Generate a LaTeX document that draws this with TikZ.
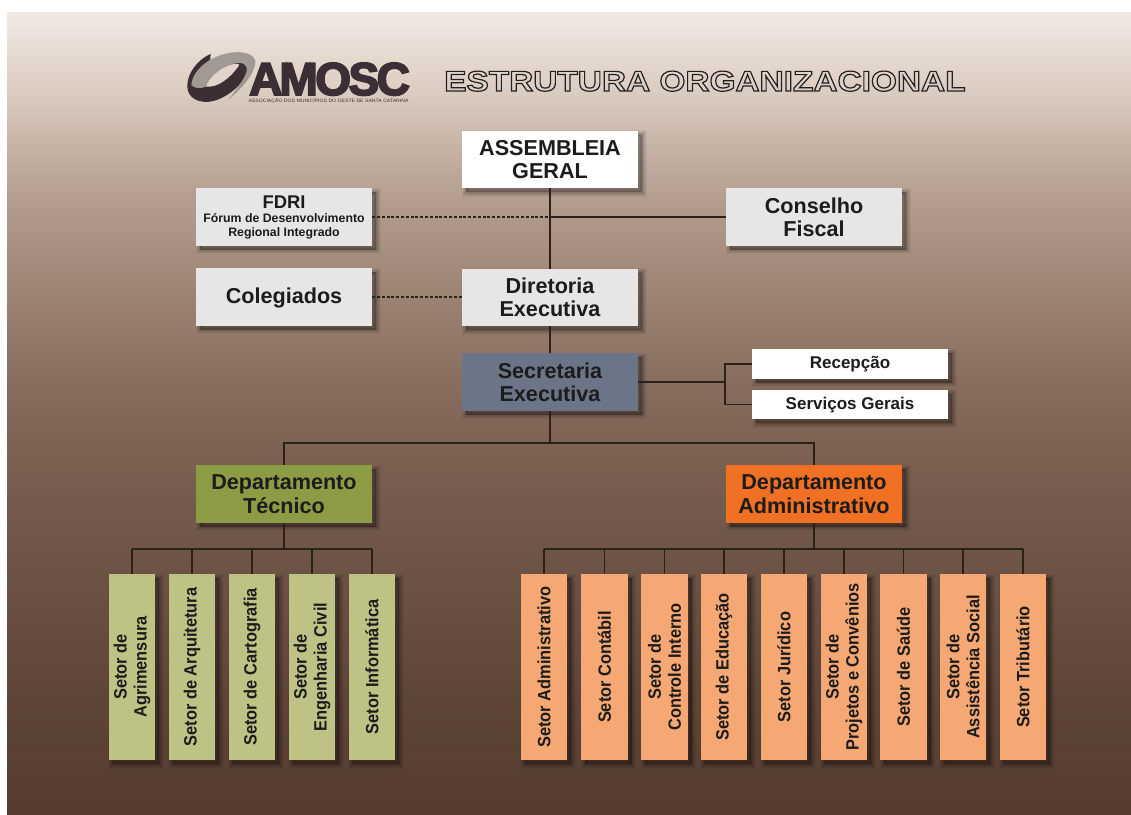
\documentclass[tikz,border=0pt]{standalone}
\usepackage{fontspec}
\setmainfont{Liberation Sans}[BoldFont={* Bold}]
\newfontfamily\widefont{Liberation Sans Bold}[FakeStretch=1.172]
\newfontfamily\logofont{Liberation Sans Bold}
\newfontfamily\setorfont{Liberation Sans Bold}[FakeStretch=.92]
\usetikzlibrary{shadows}
\definecolor{bgA}{HTML}{553C2F}
\definecolor{bgB}{HTML}{5D4538}
\definecolor{bgC}{HTML}{695042}
\definecolor{bgD}{HTML}{755B4D}
\definecolor{bgE}{HTML}{85695B}
\definecolor{bgF}{HTML}{9A8273}
\definecolor{bgG}{HTML}{B39D8E}
\definecolor{bgH}{HTML}{C4B2A4}
\definecolor{bgI}{HTML}{D8C9BD}
\definecolor{bgJ}{HTML}{E2D4CA}
\definecolor{bgK}{HTML}{F1E9E4}
\definecolor{inkc}{HTML}{1C1C1C}
\definecolor{linec}{HTML}{2A2119}
\definecolor{logodark}{HTML}{3B2E34}
\definecolor{logogrey}{HTML}{A09A92}
\pgfdeclareverticalshading{bgfade}{100bp}{color(0bp)=(bgA);color(25bp)=(bgA);color(32.11bp)=(bgB);color(38.34bp)=(bgC);color(44.58bp)=(bgD);color(50.81bp)=(bgE);color(57.04bp)=(bgF);color(63.28bp)=(bgG);color(66.4bp)=(bgH);color(69.51bp)=(bgI);color(71.38bp)=(bgJ);color(75bp)=(bgK);color(100bp)=(bgK)}
\newcommand\vtxt[1]{\rotatebox{90}{\parbox{180pt}{\centering #1}}}
\tikzset{
  softshadow/.style={
    general shadow={fill=black,draw=black,line width=9pt,opacity=.04,shadow xshift=4pt,shadow yshift=-4pt},
    general shadow={fill=black,draw=black,line width=7pt,opacity=.05,shadow xshift=4pt,shadow yshift=-4pt},
    general shadow={fill=black,draw=black,line width=5pt,opacity=.06,shadow xshift=4pt,shadow yshift=-4pt},
    general shadow={fill=black,draw=black,line width=3pt,opacity=.07,shadow xshift=4pt,shadow yshift=-4pt},
    general shadow={fill=black,draw=black,line width=1pt,opacity=.08,shadow xshift=4pt,shadow yshift=-4pt}},
  card/.style={softshadow,rectangle,inner sep=0pt,align=center,text=inkc,font=\bfseries\fontsize{21.6}{23.4}\selectfont,minimum width=176pt,minimum height=57.5pt,fill=#1},
  small/.style={card=white,minimum width=196pt,minimum height=29.5pt,text height=12pt,text depth=3pt,font=\bfseries\fontsize{17}{19}\selectfont},
  setorT/.style={softshadow,rectangle,inner sep=0pt,text=inkc,font=\setorfont\fontsize{17.8}{20}\selectfont,minimum width=46.5pt,minimum height=186pt,fill=#1},
  link/.style={draw=linec,line width=1.3pt},
  dashlink/.style={draw=linec,line width=1.3pt,dash pattern=on 3pt off 1.8pt},
}
\definecolor{boxgrey}{HTML}{E6E6E6}
\definecolor{boxslate}{HTML}{6C7488}
\definecolor{boxolive}{HTML}{8B9C45}
\definecolor{boxorange}{HTML}{F07123}
\definecolor{boxgreen}{HTML}{BEC385}
\definecolor{boxpeach}{HTML}{F5A873}
\begin{document}
\begin{tikzpicture}[x=1pt,y=-1pt]
\useasboundingbox (0,0) rectangle (1131,814);
\shade[shading=bgfade] (7,12) rectangle (1131,814);

% logo
\begin{scope}[shift={(180,45)},x=0.3333pt,y=-0.3333pt]
\fill[logodark] (92,27) .. controls (55,42) and (20,85) .. (22,125) .. controls (22,160) and (60,178) .. (100,168) .. controls (150,155) and (195,110) .. (212,70) -- (180,50) -- (90,50) -- cycle;
\fill[logogrey] (34,120) .. controls (38,75) and (90,30) .. (160,22) .. controls (205,18) and (232,35) .. (225,60) .. controls (218,95) and (180,135) .. (145,165) .. controls (170,130) and (205,90) .. (200,68) .. controls (195,50) and (175,50) .. (150,60) .. controls (115,72) and (85,100) .. (78,125) .. controls (60,132) and (42,130) .. (34,120) -- cycle;
\fill[bgJ] (78,125) .. controls (85,100) and (115,72) .. (150,60) .. controls (165,55) and (175,55) .. (178,60) .. controls (150,100) and (115,128) .. (78,125) -- cycle;
\end{scope}
\node[text=logodark,inner sep=0pt,anchor=base west,font=\logofont\fontsize{46}{46}\selectfont] (amosc) at (249,95) {\special{pdf:code 2 Tr 1.8 w 0.231 0.18 0.204 RG}A\kern-3pt M\kern-2.5pt O\kern-2.5pt S\kern-2.5pt C\special{pdf:code 0 Tr}};
\node[text=logodark,inner sep=0pt,anchor=center] (assoc) at (328.5,100.8) {\resizebox{160pt}{4.2pt}{ASSOCIAÇÃO DOS MUNICÍPIOS DO OESTE DE SANTA CATARINA}};

% title
\node[inner sep=0pt,anchor=base west,font=\widefont\fontsize{28.5}{30}\selectfont] (title) at (444,91) {\special{pdf:code 1 Tr 1.2 w 0.13 0.13 0.13 RG}ESTRUTURA ORGANIZACIONAL\special{pdf:code 0 Tr}};

% boxes
\node[card=white] (assem) at (550,159.5) {ASSEMBLEIA\\GERAL};
\node[card=boxgrey,font=\bfseries\fontsize{12.3}{14}\selectfont] (fdri) at (284,217) {{\fontsize{18.4}{14}\selectfont FDRI}\\Fórum de Desenvolvimento\\Regional Integrado};
\node[card=boxgrey] (cons) at (814,217) {Conselho\\Fiscal};
\node[card=boxgrey,text height=15.7pt,text depth=3pt] (coleg) at (284,297) {Colegiados};
\node[card=boxgrey] (dir) at (550,297.5) {Diretoria\\Executiva};
\node[card=boxslate] (sec) at (550,382) {Secretaria\\Executiva};
\node[small] (recep) at (850,364) {Recepção};
\node[small] (serv) at (850,404.5) {Serviços Gerais};
\node[card=boxolive] (depT) at (284,494) {Departamento\\Técnico};
\node[card=boxorange] (depA) at (814,494) {Departamento\\Administrativo};

% setores tecnicos
\node[setorT=boxgreen] (t1) at (132,667) {\vtxt{Setor de\\Agrimensura}};
\node[setorT=boxgreen] (t2) at (192,667) {\vtxt{Setor de Arquitetura}};
\node[setorT=boxgreen] (t3) at (252,667) {\vtxt{Setor de Cartografia}};
\node[setorT=boxgreen] (t4) at (312,667) {\vtxt{Setor de\\Engenharia Civil}};
\node[setorT=boxgreen] (t5) at (372,667) {\vtxt{Setor Informática}};

% setores administrativos
\node[setorT=boxpeach] (a1) at (544,667) {\vtxt{Setor Administrativo}};
\node[setorT=boxpeach] (a2) at (604.5,667) {\vtxt{Setor Contábil}};
\node[setorT=boxpeach] (a3) at (664.5,667) {\vtxt{Setor de\\Controle Interno}};
\node[setorT=boxpeach] (a4) at (724,667) {\vtxt{Setor de Educação}};
\node[setorT=boxpeach] (a5) at (784,667) {\vtxt{Setor Jurídico}};
\node[setorT=boxpeach] (a6) at (844,667) {\vtxt{Setor de\\Projetos e Convênios}};
\node[setorT=boxpeach] (a7) at (903.5,667) {\vtxt{Setor de Saúde}};
\node[setorT=boxpeach] (a8) at (963,667) {\vtxt{Setor de\\Assistência Social}};
\node[setorT=boxpeach] (a9) at (1023,667) {\vtxt{Setor Tributário}};

% connectors
\coordinate (busS) at (550,443);
\coordinate (busT) at (284,549);
\coordinate (busA) at (814,549);
\coordinate (jR) at (725,382);
\draw[link] (assem) -- (dir);
\draw[link] (cons.west) -- (cons.west -| assem.south);
\draw[dashlink] (fdri.east) -- (fdri.east -| assem.south);
\draw[dashlink] (coleg.east) -- (coleg.east -| dir.west);
\draw[link] (dir) -- (sec);
\draw[link] (sec.south) -- (busS);
\draw[link] (depT.north) -- (depT.north |- busS) -- (depA.north |- busS) -- (depA.north);
\draw[link] (sec.east) -- (jR);
\draw[link] (recep.west) -| (jR);
\draw[link] (serv.west) -| (jR);
\draw[link] (depT.south) -- (busT);
\draw[link] (depA.south) -- (busA);
\draw[link] (t1.north |- busT) -- (t5.north |- busT);
\draw[link] (a1.north |- busA) -- (a9.north |- busA);
\foreach \n in {t1,t2,t3,t4,t5} \draw[link] (\n.north) -- (\n.north |- busT);
\foreach \n in {a1,a2,a3,a4,a5,a6,a7,a8,a9} \draw[link] (\n.north) -- (\n.north |- busA);
\end{tikzpicture}
\end{document}
